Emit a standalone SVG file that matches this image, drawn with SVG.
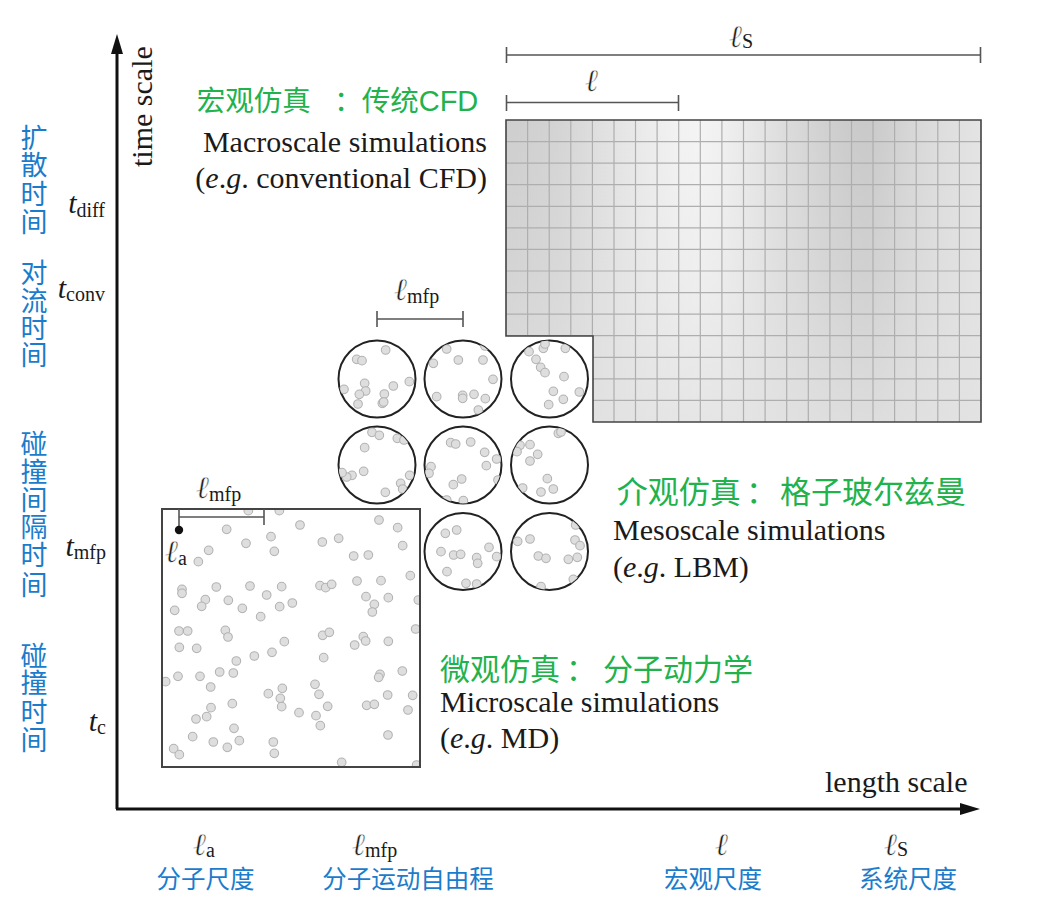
<svg xmlns="http://www.w3.org/2000/svg" width="1039" height="910" viewBox="0 0 1039 910">
<style>
.serif{font-family:"Liberation Serif","DejaVu Serif",serif;fill:#1a1a1a}
.en{font-size:30px}
.it{font-style:italic}
.sub{font-size:20px}
.ell{font-family:"Liberation Serif","DejaVu Serif",serif;font-style:italic;font-size:31px;stroke:#fff;stroke-width:0.5px}
.cjkb{font-family:"Noto Sans CJK SC",sans-serif;fill:#1b7ccb}
.cjkg{font-family:"Noto Sans CJK SC",sans-serif;fill:#22b24c}
.bar{stroke:#555;stroke-width:1.6;fill:none}
.axis{stroke:#111;stroke-width:3;fill:none}
.ring{fill:#fff;stroke:#222;stroke-width:2}
.pt circle{fill:#dedede;stroke:#b2b2b2;stroke-width:3.2}
</style>
<defs>
<linearGradient id="gx" x1="506" y1="0" x2="981" y2="0" gradientUnits="userSpaceOnUse">
<stop offset="0" stop-color="#cecece"/>
<stop offset="0.07" stop-color="#d1d1d1"/>
<stop offset="0.11" stop-color="#d4d4d4"/>
<stop offset="0.16" stop-color="#dadada"/>
<stop offset="0.2" stop-color="#e0e0e0"/>
<stop offset="0.25" stop-color="#e6e6e6"/>
<stop offset="0.3" stop-color="#ececec"/>
<stop offset="0.36" stop-color="#f2f2f2"/>
<stop offset="0.41" stop-color="#f4f4f4"/>
<stop offset="0.45" stop-color="#f1f1f1"/>
<stop offset="0.5" stop-color="#eaeaea"/>
<stop offset="0.55" stop-color="#e2e2e2"/>
<stop offset="0.6" stop-color="#dadada"/>
<stop offset="0.66" stop-color="#d2d2d2"/>
<stop offset="0.72" stop-color="#cbcbcb"/>
<stop offset="0.76" stop-color="#c9c9c9"/>
<stop offset="0.8" stop-color="#cecece"/>
<stop offset="0.85" stop-color="#d6d6d6"/>
<stop offset="0.9" stop-color="#dcdcdc"/>
<stop offset="1" stop-color="#e4e4e4"/>
</linearGradient>
<linearGradient id="gy" x1="0" y1="120" x2="0" y2="422" gradientUnits="userSpaceOnUse">
<stop offset="0" stop-color="#e2e2e2" stop-opacity="0"/>
<stop offset="0.5" stop-color="#e2e2e2" stop-opacity="0.3"/>
<stop offset="1" stop-color="#e2e2e2" stop-opacity="0.8"/>
</linearGradient>
<clipPath id="cgrid"><polygon points="506,120 981,120 981,422 593,422 593,336 506,336"/></clipPath>
<clipPath id="cbox"><rect x="162" y="509" width="258" height="258"/></clipPath>
<clipPath id="c11"><circle cx="377" cy="379" r="38.5"/></clipPath>
<clipPath id="c12"><circle cx="463" cy="379" r="38.5"/></clipPath>
<clipPath id="c13"><circle cx="549.5" cy="379" r="38.5"/></clipPath>
<clipPath id="c21"><circle cx="377" cy="465" r="38.5"/></clipPath>
<clipPath id="c22"><circle cx="463" cy="465" r="38.5"/></clipPath>
<clipPath id="c23"><circle cx="549.5" cy="465" r="38.5"/></clipPath>
<clipPath id="c32"><circle cx="463" cy="551.5" r="38.5"/></clipPath>
<clipPath id="c33"><circle cx="549.5" cy="551.5" r="38.5"/></clipPath>
</defs>
<rect width="1039" height="910" fill="#fff"/>

<g id="axes">
<line class="axis" x1="117" y1="809" x2="117" y2="50"/>
<polygon points="117,34 111,54 123,54" fill="#111"/>
<line class="axis" x1="116" y1="809" x2="963" y2="809"/>
<polygon points="980,809 960,803 960,815" fill="#111"/>
<text class="serif en" transform="translate(151.5 167) rotate(-90)">time scale</text>
<text class="serif en" x="825" y="792">length scale</text>
</g>

<g id="macro">
<g clip-path="url(#cgrid)">
<rect x="506" y="120" width="475" height="302" fill="url(#gx)"/>
<rect x="506" y="120" width="475" height="302" fill="url(#gy)"/>
<path stroke="#aeaeae" stroke-width="1.2" fill="none" d="M527.6 120V422M549.2 120V422M570.8 120V422M592.4 120V422M614 120V422M635.5 120V422M657.1 120V422M678.7 120V422M700.3 120V422M721.9 120V422M743.5 120V422M765.1 120V422M786.7 120V422M808.3 120V422M829.9 120V422M851.5 120V422M873 120V422M894.6 120V422M916.2 120V422M937.8 120V422M959.4 120V422M506 141.6H981M506 163.1H981M506 184.7H981M506 206.3H981M506 227.9H981M506 249.4H981M506 271H981M506 292.6H981M506 314.1H981M506 335.7H981M506 357.3H981M506 378.8H981M506 400.4H981"/>
</g>
<polygon points="506,120 981,120 981,422 593,422 593,336 506,336" fill="none" stroke="#444" stroke-width="1.6"/>
<path class="bar" d="M506.5 55H980.5M506.5 47V63M980.5 47V63"/>
<text class="serif" x="729" y="47"><tspan class="ell">ℓ</tspan><tspan class="sub" font-size="21" dy="1">S</tspan></text>
<path class="bar" d="M506.5 102.5H678.5M506.5 95V111M678.5 95V111"/>
<text class="serif ell" x="585" y="91">ℓ</text>
<text class="cjkg" y="111" font-size="28.5"><tspan x="196.7">宏观仿真</tspan><tspan x="334">：</tspan><tspan x="361.7">传统</tspan><tspan font-family="Liberation Sans, sans-serif" font-size="29">CFD</tspan></text>
<text class="serif en" x="487" y="152" text-anchor="end" font-size="30.4">Macroscale simulations</text>
<text class="serif en" x="487" y="188" text-anchor="end">(<tspan class="it">e</tspan>.<tspan class="it">g</tspan>. conventional CFD)</text>
</g>

<g id="meso">
<path class="bar" d="M377 319H463M377 311V327M463 311V327"/>
<text class="serif" x="394" y="300"><tspan class="ell">ℓ</tspan><tspan class="sub" dy="3">mfp</tspan></text>
<circle class="ring" cx="377" cy="379" r="38.5"/>
<circle class="ring" cx="463" cy="379" r="38.5"/>
<circle class="ring" cx="549.5" cy="379" r="38.5"/>
<circle class="ring" cx="377" cy="465" r="38.5"/>
<circle class="ring" cx="463" cy="465" r="38.5"/>
<circle class="ring" cx="549.5" cy="465" r="38.5"/>
<circle class="ring" cx="463" cy="551.5" r="38.5"/>
<circle class="ring" cx="549.5" cy="551.5" r="38.5"/>
<g clip-path="url(#c11)"><g class="pt" transform="translate(330 280) scale(0.33333)">
<circle cx="167" cy="210" r="13"/><circle cx="80" cy="238" r="13"/><circle cx="96" cy="242" r="13"/><circle cx="104" cy="310" r="13"/><circle cx="107" cy="333" r="13"/><circle cx="88" cy="343" r="13"/><circle cx="42" cy="328" r="13"/><circle cx="84" cy="372" r="13"/><circle cx="163" cy="342" r="13"/><circle cx="157" cy="370" r="13"/><circle cx="161" cy="366" r="13"/><circle cx="190" cy="318" r="13"/><circle cx="238" cy="305" r="13"/></g></g>
<g clip-path="url(#c12)"><g class="pt" transform="translate(330 280) scale(0.33333)">
<circle cx="350" cy="207" r="13"/><circle cx="310" cy="250" r="13"/><circle cx="385" cy="240" r="13"/><circle cx="459" cy="240" r="13"/><circle cx="489" cy="298" r="13"/><circle cx="320" cy="350" r="13"/><circle cx="398" cy="346" r="13"/><circle cx="398" cy="355" r="13"/><circle cx="432" cy="343" r="13"/><circle cx="466" cy="356" r="13"/><circle cx="445" cy="390" r="13"/><circle cx="465" cy="198" r="13"/></g></g>
<g clip-path="url(#c13)"><g class="pt" transform="translate(330 280) scale(0.33333)">
<circle cx="597" cy="215" r="13"/><circle cx="640" cy="205" r="13"/><circle cx="645" cy="192" r="13"/><circle cx="706" cy="205" r="13"/><circle cx="618" cy="238" r="13"/><circle cx="632" cy="262" r="13"/><circle cx="645" cy="278" r="13"/><circle cx="702" cy="290" r="13"/><circle cx="670" cy="334" r="13"/><circle cx="748" cy="336" r="13"/><circle cx="700" cy="358" r="13"/><circle cx="656" cy="374" r="13"/></g></g>
<g clip-path="url(#c21)"><g class="pt" transform="translate(330 280) scale(0.33333)">
<circle cx="126" cy="457" r="13"/><circle cx="148" cy="466" r="13"/><circle cx="202" cy="475" r="13"/><circle cx="104" cy="503" r="13"/><circle cx="101" cy="574" r="13"/><circle cx="66" cy="586" r="13"/><circle cx="50" cy="591" r="13"/><circle cx="36" cy="578" r="13"/><circle cx="239" cy="586" r="13"/><circle cx="212" cy="610" r="13"/><circle cx="218" cy="627" r="13"/><circle cx="166" cy="637" r="13"/><circle cx="222" cy="480" r="13"/></g></g>
<g clip-path="url(#c22)"><g class="pt" transform="translate(330 280) scale(0.33333)">
<circle cx="362" cy="488" r="13"/><circle cx="377" cy="492" r="13"/><circle cx="422" cy="486" r="13"/><circle cx="464" cy="517" r="13"/><circle cx="500" cy="537" r="13"/><circle cx="469" cy="557" r="13"/><circle cx="303" cy="560" r="13"/><circle cx="297" cy="580" r="13"/><circle cx="395" cy="597" r="13"/><circle cx="370" cy="614" r="13"/><circle cx="504" cy="600" r="13"/><circle cx="350" cy="660" r="13"/><circle cx="400" cy="662" r="13"/></g></g>
<g clip-path="url(#c23)"><g class="pt" transform="translate(330 280) scale(0.33333)">
<circle cx="685" cy="460" r="13"/><circle cx="600" cy="494" r="13"/><circle cx="623" cy="523" r="13"/><circle cx="570" cy="496" r="13"/><circle cx="561" cy="515" r="13"/><circle cx="600" cy="543" r="13"/><circle cx="652" cy="596" r="13"/><circle cx="670" cy="627" r="13"/><circle cx="633" cy="636" r="13"/><circle cx="578" cy="624" r="13"/><circle cx="693" cy="456" r="13"/></g></g>
<g clip-path="url(#c32)"><g class="pt" transform="translate(330 280) scale(0.33333)">
<circle cx="346" cy="760" r="13"/><circle cx="380" cy="750" r="13"/><circle cx="477" cy="802" r="13"/><circle cx="500" cy="830" r="13"/><circle cx="333" cy="815" r="13"/><circle cx="371" cy="825" r="13"/><circle cx="392" cy="823" r="13"/><circle cx="440" cy="833" r="13"/><circle cx="443" cy="850" r="13"/><circle cx="351" cy="875" r="13"/><circle cx="408" cy="910" r="13"/><circle cx="440" cy="912" r="13"/></g></g>
<g clip-path="url(#c33)"><g class="pt" transform="translate(330 280) scale(0.33333)">
<circle cx="600" cy="777" r="13"/><circle cx="563" cy="784" r="13"/><circle cx="737" cy="735" r="13"/><circle cx="735" cy="780" r="13"/><circle cx="750" cy="797" r="13"/><circle cx="625" cy="828" r="13"/><circle cx="648" cy="835" r="13"/><circle cx="715" cy="838" r="13"/><circle cx="742" cy="832" r="13"/><circle cx="730" cy="898" r="13"/><circle cx="633" cy="920" r="13"/></g></g>
<text class="cjkg" y="503" font-size="31"><tspan x="616.7">介观仿真</tspan><tspan x="746">：</tspan><tspan x="780">格子玻尔兹曼</tspan></text>
<text class="serif en" x="613" y="540" font-size="30.3">Mesoscale simulations</text>
<text class="serif en" x="613" y="577">(<tspan class="it">e</tspan>.<tspan class="it">g</tspan>. LBM)</text>
</g>

<g id="micro">
<rect x="162" y="509" width="258" height="258" fill="#fff"/>
<g clip-path="url(#cbox)"><g class="pt" transform="translate(150 480) scale(0.33333)">
<circle cx="295" cy="92" r="13"/><circle cx="388" cy="92" r="13"/><circle cx="230" cy="148" r="13"/><circle cx="450" cy="135" r="13"/><circle cx="687" cy="120" r="13"/><circle cx="743" cy="143" r="13"/><circle cx="363" cy="170" r="13"/><circle cx="288" cy="190" r="13"/><circle cx="373" cy="214" r="13"/><circle cx="176" cy="211" r="13"/><circle cx="145" cy="245" r="13"/><circle cx="517" cy="186" r="13"/><circle cx="566" cy="175" r="13"/><circle cx="611" cy="228" r="13"/><circle cx="655" cy="225" r="13"/><circle cx="758" cy="197" r="13"/>
<circle cx="96" cy="328" r="13"/><circle cx="96" cy="340" r="13"/><circle cx="199" cy="321" r="13"/><circle cx="300" cy="318" r="13"/><circle cx="350" cy="345" r="13"/><circle cx="395" cy="320" r="13"/><circle cx="510" cy="317" r="13"/><circle cx="527" cy="323" r="13"/><circle cx="545" cy="313" r="13"/><circle cx="621" cy="303" r="13"/><circle cx="693" cy="302" r="13"/><circle cx="781" cy="287" r="13"/>
<circle cx="166" cy="359" r="13"/><circle cx="155" cy="379" r="13"/><circle cx="235" cy="361" r="13"/><circle cx="277" cy="385" r="13"/><circle cx="332" cy="410" r="13"/><circle cx="389" cy="380" r="13"/><circle cx="427" cy="369" r="13"/><circle cx="648" cy="350" r="13"/><circle cx="715" cy="353" r="13"/><circle cx="673" cy="373" r="13"/><circle cx="667" cy="396" r="13"/><circle cx="74" cy="391" r="13"/>
<circle cx="87" cy="453" r="13"/><circle cx="113" cy="453" r="13"/><circle cx="226" cy="451" r="13"/><circle cx="234" cy="471" r="13"/><circle cx="88" cy="502" r="13"/><circle cx="140" cy="505" r="13"/><circle cx="403" cy="485" r="13"/><circle cx="366" cy="517" r="13"/><circle cx="518" cy="466" r="13"/><circle cx="538" cy="457" r="13"/><circle cx="640" cy="470" r="13"/><circle cx="647" cy="483" r="13"/><circle cx="614" cy="495" r="13"/><circle cx="715" cy="484" r="13"/><circle cx="521" cy="533" r="13"/><circle cx="313" cy="528" r="13"/><circle cx="259" cy="543" r="13"/><circle cx="797" cy="447" r="13"/><circle cx="805" cy="360" r="13"/>
<circle cx="47" cy="605" r="13"/><circle cx="84" cy="589" r="13"/><circle cx="150" cy="589" r="13"/><circle cx="209" cy="576" r="13"/><circle cx="250" cy="579" r="13"/><circle cx="182" cy="621" r="13"/><circle cx="355" cy="641" r="13"/><circle cx="397" cy="625" r="13"/><circle cx="391" cy="655" r="13"/><circle cx="395" cy="680" r="13"/><circle cx="495" cy="613" r="13"/><circle cx="507" cy="643" r="13"/><circle cx="533" cy="679" r="13"/><circle cx="447" cy="698" r="13"/><circle cx="498" cy="707" r="13"/><circle cx="511" cy="737" r="13"/><circle cx="650" cy="676" r="13"/><circle cx="673" cy="673" r="13"/><circle cx="690" cy="583" r="13"/><circle cx="686" cy="592" r="13"/><circle cx="757" cy="573" r="13"/><circle cx="713" cy="645" r="13"/><circle cx="788" cy="646" r="13"/><circle cx="774" cy="690" r="13"/>
<circle cx="247" cy="671" r="13"/><circle cx="183" cy="683" r="13"/><circle cx="170" cy="710" r="13"/><circle cx="138" cy="717" r="13"/><circle cx="252" cy="745" r="13"/><circle cx="128" cy="770" r="13"/><circle cx="190" cy="786" r="13"/><circle cx="232" cy="802" r="13"/><circle cx="268" cy="782" r="13"/><circle cx="370" cy="786" r="13"/><circle cx="373" cy="820" r="13"/><circle cx="71" cy="806" r="13"/><circle cx="88" cy="824" r="13"/><circle cx="714" cy="765" r="13"/><circle cx="575" cy="847" r="13"/><circle cx="800" cy="855" r="13"/>
</g></g>
<rect x="162" y="509" width="258" height="258" fill="none" stroke="#444" stroke-width="2"/>
<path class="bar" d="M179 509V530M179 517H264M264 509V525"/>
<circle cx="179" cy="530" r="4.2" fill="#111"/>
<text class="serif" x="196" y="498"><tspan class="ell">ℓ</tspan><tspan class="sub" dy="3">mfp</tspan></text>
<text class="serif" x="165" y="562"><tspan class="ell">ℓ</tspan><tspan class="sub" dy="3">a</tspan></text>
<text class="cjkg" y="680" font-size="30"><tspan x="440">微观仿真</tspan><tspan x="566">：</tspan><tspan x="603">分子动力学</tspan></text>
<text class="serif en" x="440" y="712" font-size="30.3">Microscale simulations</text>
<text class="serif en" x="440" y="748">(<tspan class="it">e</tspan>.<tspan class="it">g</tspan>. MD)</text>
</g>

<g id="time-labels">
<text class="serif en" x="105" y="213" text-anchor="end"><tspan class="it">t</tspan><tspan class="sub" dy="4">diff</tspan></text>
<text class="serif en" x="105" y="298" text-anchor="end"><tspan class="it">t</tspan><tspan class="sub" dy="3">conv</tspan></text>
<text class="serif en" x="106" y="556" text-anchor="end"><tspan class="it">t</tspan><tspan class="sub" dy="3">mfp</tspan></text>
<text class="serif en" x="106" y="731" text-anchor="end"><tspan class="it">t</tspan><tspan class="sub" dy="3">c</tspan></text>
<text class="cjkb" font-size="27" text-anchor="middle" x="34 34 34 34" y="148 175 204 232">扩散时间</text>
<text class="cjkb" font-size="27" text-anchor="middle" x="34 34 34 34" y="283 311 338 365">对流时间</text>
<text class="cjkb" font-size="27" text-anchor="middle" x="34 34 34 34 34 34" y="454 482 510 537 565 595">碰撞间隔时间</text>
<text class="cjkb" font-size="27" text-anchor="middle" x="34 34 34 34" y="666 693 722 750">碰撞时间</text>
</g>

<g id="length-labels">
<text class="serif" x="193" y="855"><tspan class="ell">ℓ</tspan><tspan class="sub" dy="2">a</tspan></text>
<text class="serif" x="352" y="855"><tspan class="ell">ℓ</tspan><tspan class="sub" dy="2">mfp</tspan></text>
<text class="serif ell" x="715" y="855">ℓ</text>
<text class="serif" x="884" y="855"><tspan class="ell">ℓ</tspan><tspan class="sub" font-size="21" dy="1">S</tspan></text>
<g class="cjkb" font-size="24.5" text-anchor="middle">
<text x="205.5" y="888">分子尺度</text>
<text x="408" y="888">分子运动自由程</text>
<text x="713" y="888">宏观尺度</text>
<text x="908" y="888">系统尺度</text>
</g>
</g>
</svg>
